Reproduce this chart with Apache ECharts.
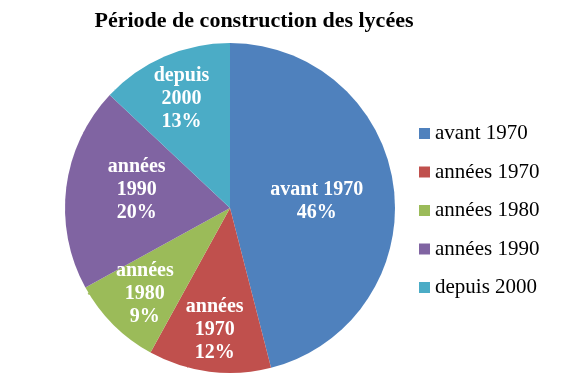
<!DOCTYPE html>
<html><head><meta charset="utf-8">
<script src="https://cdn.jsdelivr.net/npm/echarts@6/dist/echarts.min.js"></script>
<style>html,body{margin:0;padding:0;background:#fff}#c{width:565px;height:375px}</style>
</head><body><div id="c"></div>
<script>
var title = 'Période de construction des lycées';
var categories = ['avant 1970', 'années 1970', 'années 1980', 'années 1990', 'depuis 2000'];
var values = [46, 12, 9, 20, 13];
var labelTexts = ['avant 1970', 'années\n1970', 'années\n1980', 'années\n1990', 'depuis\n2000'];
var colors = ['#4F81BD', '#C0504D', '#9BBB59', '#8064A2', '#4BACC6'];
var labelRadiusFrac = [0.53, 0.74, 0.73, 0.57, 0.74];
var labelShiftY = [4, 1, 1, -6, 3];

var cx = 230, cy = 208, R = 165;
var total = values.reduce(function(a,b){return a+b;},0);
function labelPos(i){
  var before = 0; for (var k=0;k<i;k++) before += values[k];
  var mid = (before + values[i]/2) / total * 2 * Math.PI;
  var r = R * labelRadiusFrac[i];
  return {x: cx + Math.sin(mid)*r, y: cy - Math.cos(mid)*r + labelShiftY[i]};
}
var serif = 'Liberation Serif';
var chart = echarts.init(document.getElementById('c'));
chart.setOption({
  animation: false,
  color: colors,
  textStyle: {fontFamily: serif},
  title: {text: title, left: 249, top: 5, textAlign: 'center',
    textStyle: {fontFamily: serif, fontWeight: 'bold', fontSize: 22, color: '#000'}},
  legend: {orient: 'vertical', left: 414, top: 118, itemWidth: 11, itemHeight: 11, itemGap: 17.5,
    icon: 'rect', data: categories,
    textStyle: {fontFamily: serif, fontSize: 21, color: '#000', lineHeight: 21}},
  series: [{
    type: 'pie', center: [cx, cy], radius: R, startAngle: 90, clockwise: true,
    data: categories.map(function(c,i){return {name: c, value: values[i]};}),
    itemStyle: {borderWidth: 0},
    label: {position: 'inside', color: '#fff', fontFamily: serif, fontWeight: 'bold',
      fontSize: 20, lineHeight: 23, align: 'center',
      formatter: function(p){ return labelTexts[p.dataIndex] + '\n' + p.value + '%'; }},
    labelLayout: function(p){ var q = labelPos(p.dataIndex); return {x: q.x, y: q.y, align: 'center', verticalAlign: 'middle'}; },
    emphasis: {disabled: true}
  }]
});
</script></body></html>
